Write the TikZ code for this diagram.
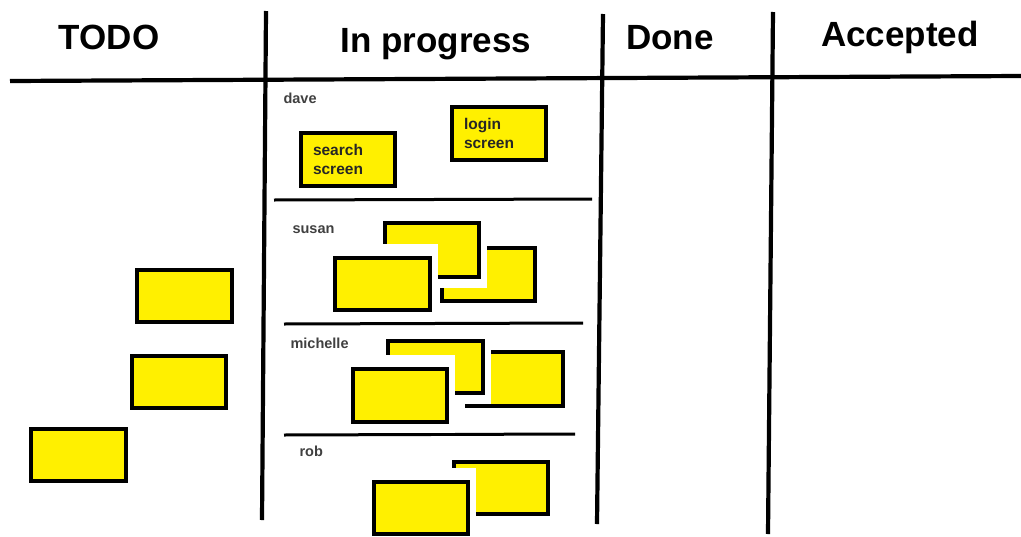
\documentclass[tikz,border=0pt]{standalone}
\usepackage{fontspec}
\setmainfont{Liberation Sans}
\definecolor{noteyellow}{RGB}{255,240,0}
\tikzset{
  board/.style={line width=4.2pt, black},
  lane/.style={line width=3pt, black},
  card/.style={rectangle, draw=black, line width=3.4pt, fill=noteyellow,
    inner sep=0pt, outer sep=0pt, align=left, text=black!85,
    font=\fontsize{15.5}{19}\selectfont\bfseries},
  header/.style={anchor=base, font=\fontsize{35}{40}\selectfont\bfseries, text=black},
  owner/.style={anchor=mid west, font=\fontsize{14.5}{17}\selectfont\bfseries, text=black!75}
}
\newcommand\kanbancard[6]{%
  \fill[white] (#2-8,#3-14) rectangle (#4+8,#5+11);
  \node[card, anchor=north west, minimum width={(#4-#2)*1pt},
        minimum height={(#5-#3)*1pt}, text width={(#4-#2-24)*1pt}] (#1) at (#2,#3) {#6};
}
\begin{document}
\begin{tikzpicture}[x=1pt, y=-1pt]
\useasboundingbox (0,0) rectangle (1021,536);
\fill[white] (0,0) rectangle (1021,536);

% board frame
\coordinate (hL) at (10,81);
\coordinate (hR) at (1021,76);
\draw[board] (hL) -- (hR);
\coordinate (v1t) at (266,11);  \coordinate (v1b) at (262,520);
\coordinate (v2t) at (603,14);  \coordinate (v2b) at (597,524);
\coordinate (v3t) at (773,12);  \coordinate (v3b) at (768,534);
\draw[board] (v1t) -- (v1b);
\draw[board] (v2t) -- (v2b);
\draw[board] (v3t) -- (v3b);

% headers
\node[header] (todo) at (109,49) {TODO};
\node[header] (inprog) at (436,52) {In progress};
\node[header] (done) at (670,49) {Done};
\node[header] (acc) at (900,46) {Accepted};

% swimlane separators
\coordinate (l1a) at (274,200); \coordinate (l1b) at (592,199);
\coordinate (l2a) at (284,324); \coordinate (l2b) at (583,323);
\coordinate (l3a) at (284,435); \coordinate (l3b) at (575,434);
\draw[lane] (l1a) -- (l1b);
\draw[lane] (l2a) -- (l2b);
\draw[lane] (l3a) -- (l3b);

% TODO cards
\kanbancard{t1}{137}{270}{232}{322}{}
\kanbancard{t2}{132}{356}{226}{408}{}
\kanbancard{t3}{31}{429}{126}{481}{}

% dave
\kanbancard{search}{301}{133}{395}{186}{search\\screen}
\kanbancard{login}{452}{107}{546}{160}{login\\screen}

% susan
\kanbancard{sB}{442}{248}{535}{301}{}
\kanbancard{sA}{385}{223}{479}{277}{}
\kanbancard{sC}{335}{258}{430}{310}{}

% michelle
\kanbancard{mB}{467}{352}{563}{406}{}
\kanbancard{mA}{388}{341}{483}{393}{}
\kanbancard{mC}{353}{369}{447}{422}{}

% rob
\kanbancard{rB}{454}{462}{548}{514}{}
\kanbancard{rC}{374}{482}{468}{534}{}

% owners
\node[owner] (dave) at (280,101) {dave};
\node[owner] (susan) at (289,231) {susan};
\node[owner] (michelle) at (287,346) {michelle};
\node[owner] (rob) at (296,454) {rob};
\end{tikzpicture}
\end{document}
